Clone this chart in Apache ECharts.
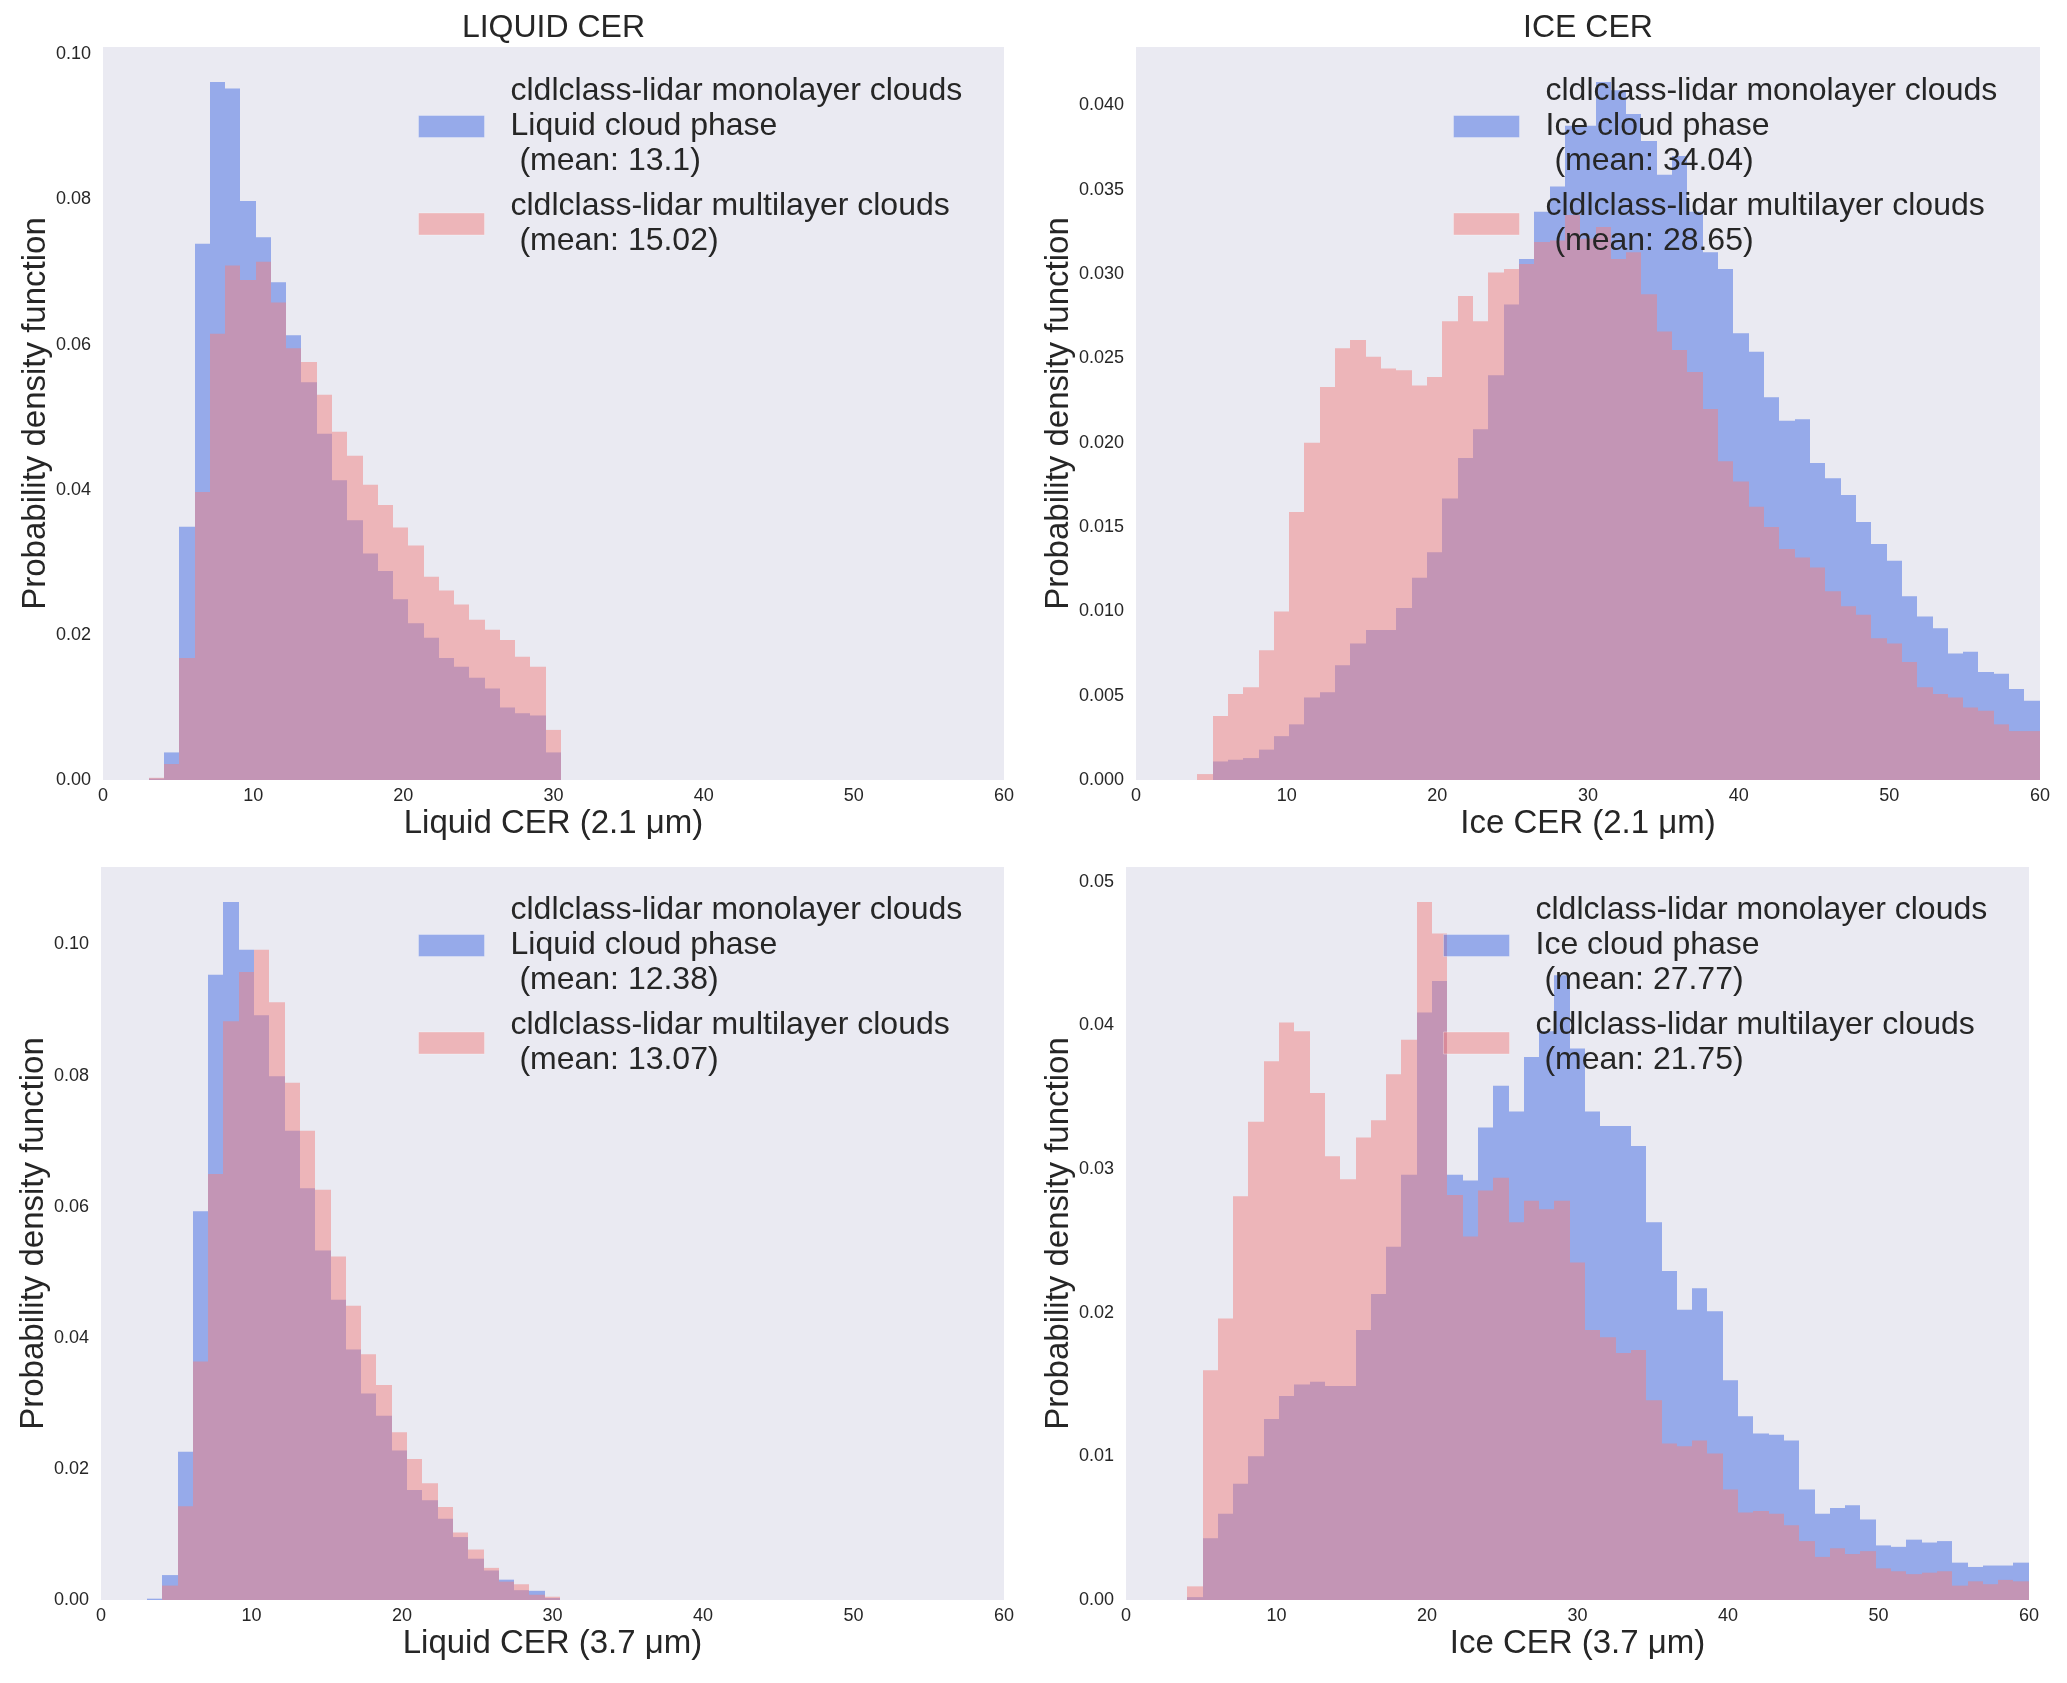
<!DOCTYPE html>
<html>
<head>
<meta charset="utf-8">
<title>CER histograms</title>
<script src="https://cdn.jsdelivr.net/npm/echarts@6/dist/echarts.min.js"></script>
<style>
  html, body { margin: 0; padding: 0; background: #fff; }
  #chart { width: 2067px; height: 1683px; }
</style>
</head>
<body>
<div id="chart"></div>
<script>
// Bin width shared by every histogram (61 / 60 units per bin)
const binWidth = 61 / 60;
const liquidFirstBin = 3;
const iceFirstBin = 4;

// Liquid CER 2.1 µm
const liq21Mono = [0.0002, 0.0038, 0.0349, 0.0739, 0.0962, 0.0953, 0.0798, 0.0748, 0.0686, 0.0613,
    0.0548, 0.0477, 0.0413, 0.0358, 0.0312, 0.0288, 0.0249, 0.0216, 0.0196, 0.0168,
    0.0156, 0.0141, 0.0126, 0.0100, 0.0092, 0.0089, 0.0038];
const liq21Multi = [0.0003, 0.0022, 0.0168, 0.0397, 0.0615, 0.0709, 0.0689, 0.0714, 0.0658, 0.0595,
    0.0576, 0.0531, 0.0480, 0.0447, 0.0407, 0.0379, 0.0348, 0.0323, 0.0280, 0.0261,
    0.0242, 0.0221, 0.0207, 0.0193, 0.0170, 0.0156, 0.0069];

// Ice CER 2.1 µm
const ice21Mono = [0.0000, 0.0011, 0.0012, 0.0013, 0.0018, 0.0026, 0.0033, 0.0049, 0.0052, 0.0068,
    0.0081, 0.0089, 0.0089, 0.0102, 0.0120, 0.0135, 0.0167, 0.0191, 0.0208, 0.0240,
    0.0282, 0.0309, 0.0337, 0.0352, 0.0388, 0.0388, 0.0414, 0.0409, 0.0395, 0.0379,
    0.0359, 0.0370, 0.0337, 0.0313, 0.0303, 0.0265, 0.0254, 0.0227, 0.0213, 0.0214,
    0.0188, 0.0179, 0.0169, 0.0153, 0.0140, 0.0130, 0.0109, 0.0097, 0.0090, 0.0075,
    0.0076, 0.0064, 0.0063, 0.0054, 0.0047];
const ice21Multi = [0.00035, 0.0038, 0.0051, 0.0055, 0.0077, 0.0100, 0.0159, 0.0200, 0.0233, 0.0256,
    0.0261, 0.0251, 0.0244, 0.0243, 0.0234, 0.0239, 0.0272, 0.0287, 0.0272, 0.0301,
    0.0303, 0.0306, 0.0319, 0.0320, 0.0335, 0.0321, 0.0328, 0.0309, 0.0313, 0.0288,
    0.0266, 0.0255, 0.0242, 0.0220, 0.0189, 0.0177, 0.0162, 0.0150, 0.0137, 0.0132,
    0.0126, 0.0112, 0.0103, 0.0098, 0.0084, 0.0081, 0.0070, 0.0055, 0.0051, 0.0049,
    0.0043, 0.0041, 0.0033, 0.0029, 0.0029];

// Liquid CER 3.7 µm
const liq37Mono = [0.0002, 0.0038, 0.0226, 0.0593, 0.0954, 0.1065, 0.0992, 0.0892, 0.0799, 0.0716,
    0.0628, 0.0533, 0.0458, 0.0382, 0.0315, 0.0281, 0.0228, 0.0168, 0.0152, 0.0124,
    0.0096, 0.0063, 0.0045, 0.0031, 0.0015, 0.0014, 0.0003];
const liq37Multi = [0.0000, 0.0022, 0.0143, 0.0364, 0.0650, 0.0883, 0.0958, 0.0992, 0.0912, 0.0789,
    0.0716, 0.0626, 0.0524, 0.0449, 0.0375, 0.0328, 0.0256, 0.0215, 0.0178, 0.0142,
    0.0103, 0.0077, 0.0049, 0.0028, 0.0024, 0.0008, 0.0005];

// Ice CER 3.7 µm
const ice37Mono = [0.0002, 0.0043, 0.0060, 0.0081, 0.0100, 0.0126, 0.0142, 0.0150, 0.0152, 0.0149,
    0.0149, 0.0188, 0.0213, 0.0246, 0.0296, 0.0409, 0.0431, 0.0296, 0.0292, 0.0329,
    0.0358, 0.0340, 0.0378, 0.0396, 0.0435, 0.0384, 0.0340, 0.0330, 0.0330, 0.0316,
    0.0263, 0.0229, 0.0202, 0.0217, 0.0201, 0.0153, 0.0128, 0.0116, 0.0115, 0.0111,
    0.0077, 0.0060, 0.0064, 0.0066, 0.0056, 0.0038, 0.0037, 0.0042, 0.0040, 0.0041,
    0.0026, 0.0023, 0.0024, 0.0024, 0.0026];
const ice37Multi = [0.00095, 0.0160, 0.0196, 0.0281, 0.0333, 0.0375, 0.0402, 0.0396, 0.0353, 0.0309,
    0.0293, 0.0322, 0.0334, 0.0366, 0.0390, 0.0486, 0.0464, 0.0282, 0.0253, 0.0285,
    0.0294, 0.0263, 0.0278, 0.0272, 0.0278, 0.0235, 0.0188, 0.0183, 0.0172, 0.0174,
    0.0139, 0.0109, 0.0107, 0.0111, 0.0102, 0.0077, 0.0061, 0.0062, 0.0060, 0.0052,
    0.0041, 0.0030, 0.0036, 0.0032, 0.0034, 0.0022, 0.0020, 0.0018, 0.0019, 0.0020,
    0.0010, 0.0013, 0.0011, 0.0014, 0.0013];

// Texts
const panelTitles = ['LIQUID CER', 'ICE CER'];
const xAxisNames = ['Liquid CER (2.1 μm)', 'Ice CER (2.1 μm)', 'Liquid CER (3.7 μm)', 'Ice CER (3.7 μm)'];
const yAxisName = 'Probability density function';
const monoLabels = [
    'cldlclass-lidar monolayer clouds\nLiquid cloud phase\n (mean: 13.1)',
    'cldlclass-lidar monolayer clouds\nIce cloud phase\n (mean: 34.04)',
    'cldlclass-lidar monolayer clouds\nLiquid cloud phase\n (mean: 12.38)',
    'cldlclass-lidar monolayer clouds\nIce cloud phase\n (mean: 27.77)'
];
const multiLabels = [
    'cldlclass-lidar multilayer clouds\n (mean: 15.02)',
    'cldlclass-lidar multilayer clouds\n (mean: 28.65)',
    'cldlclass-lidar multilayer clouds\n (mean: 13.07)',
    'cldlclass-lidar multilayer clouds\n (mean: 21.75)'
];
const xTicks = { min: 0, max: 60, interval: 10 };

const FONT = '"Liberation Sans", Arial, sans-serif';
const TEXT = '#262626';
const BLUE = 'rgba(65,105,225,0.5)';
const PINK = 'rgba(240,128,128,0.5)';

// Panels: data, bins, y ticks and pixel layout
const panels = [
    { mono: liq21Mono, multi: liq21Multi, first: liquidFirstBin, yInterval: 0.02, digits: 2,
      grid: { left: 103, top: 47, width: 901, height: 733 }, nameGap: 51, legend: { left: 418, top: 74 } },
    { mono: ice21Mono, multi: ice21Multi, first: iceFirstBin, yInterval: 0.005, digits: 3,
      grid: { left: 1136, top: 47, width: 904, height: 733 }, nameGap: 60, legend: { left: 1453, top: 74 } },
    { mono: liq37Mono, multi: liq37Multi, first: liquidFirstBin, yInterval: 0.02, digits: 2,
      grid: { left: 101, top: 867, width: 903, height: 733 }, nameGap: 50, legend: { left: 418, top: 893 } },
    { mono: ice37Mono, multi: ice37Multi, first: iceFirstBin, yInterval: 0.01, digits: 2,
      grid: { left: 1126, top: 867, width: 903, height: 733 }, nameGap: 50, legend: { left: 1443, top: 893 } }
];

/**
 * Transforme une liste de densités en barres [début, fin, valeur]
 */
function toBins(values, first) {
    return values.map((v, i) => [(first + i) * binWidth, (first + i + 1) * binWidth, v]);
}

function renderHist(params, api) {
    const topLeft = api.coord([api.value(0), api.value(2)]);
    const bottomRight = api.coord([api.value(1), 0]);
    // Arrondi des bords pour éviter les liserés entre barres voisines
    const x0 = Math.round(topLeft[0]);
    const x1 = Math.round(bottomRight[0]);
    return {
        type: 'rect',
        shape: {
            x: x0,
            y: topLeft[1],
            width: x1 - x0,
            height: bottomRight[1] - topLeft[1]
        },
        style: { fill: api.visual('color') }
    };
}

const option = {
    backgroundColor: '#ffffff',
    animation: false,
    textStyle: { fontFamily: FONT, color: TEXT },
    title: panelTitles.map((t, i) => ({
        text: t,
        left: panels[i].grid.left + panels[i].grid.width / 2,
        top: 12,
        textAlign: 'center',
        padding: 0,
        textStyle: { fontFamily: FONT, fontSize: 32, fontWeight: 'normal', color: TEXT }
    })),
    grid: panels.map(p => Object.assign({
        show: true,
        backgroundColor: '#EAEAF2',
        borderWidth: 0,
        containLabel: false
    }, p.grid)),
    xAxis: panels.map((p, i) => ({
        type: 'value',
        gridIndex: i,
        min: xTicks.min,
        max: xTicks.max,
        interval: xTicks.interval,
        name: xAxisNames[i],
        nameLocation: 'middle',
        nameGap: 27,
        nameTextStyle: { fontFamily: FONT, fontSize: 33, color: TEXT },
        axisLine: { show: false },
        axisTick: { show: false },
        splitLine: { show: false },
        axisLabel: { fontFamily: FONT, fontSize: 18, color: TEXT, margin: 7 }
    })),
    yAxis: panels.map((p, i) => ({
        type: 'value',
        gridIndex: i,
        min: 0,
        max: Math.max(...p.mono, ...p.multi) * 1.05,
        interval: p.yInterval,
        name: yAxisName,
        nameLocation: 'middle',
        nameRotate: 90,
        nameGap: p.nameGap,
        nameTextStyle: { fontFamily: FONT, fontSize: 33, color: TEXT },
        axisLine: { show: false },
        axisTick: { show: false },
        splitLine: { show: false },
        axisLabel: {
            fontFamily: FONT, fontSize: 18, color: TEXT, margin: 12,
            showMaxLabel: false,
            formatter: v => v.toFixed(p.digits)
        }
    })),
    legend: panels.map((p, i) => ({
        orient: 'vertical',
        left: p.legend.left,
        top: p.legend.top,
        padding: 0,
        itemGap: 10,
        itemWidth: 66,
        itemHeight: 22,
        icon: 'rect',
        selectedMode: false,
        data: [monoLabels[i], multiLabels[i]],
        itemStyle: { borderColor: 'rgba(255,255,255,0.3)', borderWidth: 1 },
        textStyle: { fontFamily: FONT, fontSize: 32, lineHeight: 35, color: TEXT, padding: [0, 0, 0, 21] }
    })),
    series: []
};

panels.forEach((p, i) => {
    option.series.push({
        type: 'custom',
        name: monoLabels[i],
        xAxisIndex: i,
        yAxisIndex: i,
        clip: true,
        renderItem: renderHist,
        itemStyle: { color: BLUE },
        encode: { x: [0, 1], y: 2 },
        data: toBins(p.mono, p.first)
    });
    option.series.push({
        type: 'custom',
        name: multiLabels[i],
        xAxisIndex: i,
        yAxisIndex: i,
        clip: true,
        renderItem: renderHist,
        itemStyle: { color: PINK },
        encode: { x: [0, 1], y: 2 },
        data: toBins(p.multi, p.first)
    });
});

const chart = echarts.init(document.getElementById('chart'), null, { renderer: 'canvas' });
chart.setOption(option);
</script>
</body>
</html>
